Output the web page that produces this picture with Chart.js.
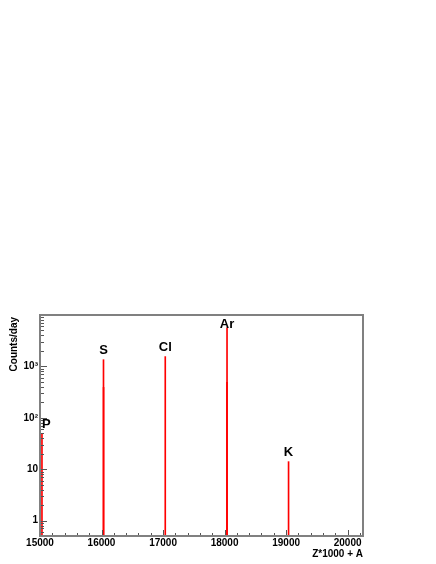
<!DOCTYPE html>
<html>
<head>
<meta charset="utf-8">
<script src="https://cdn.jsdelivr.net/npm/chart.js@4/dist/chart.umd.min.js"></script>
<style>
  html, body { margin: 0; padding: 0; background: #fff; }
  canvas { display: block; }
</style>
</head>
<body>
<canvas id="zaChart" width="436" height="564"></canvas>
<script>
// isotope bins (Z*1000 + A) and counts/day
const isotopeZA = [15032, 16032, 16033, 17036, 18039, 18040, 19040];
const countsPerDay = [50, 1350, 390, 1550, 490, 5600, 14];

// element labels above each peak
const elementNames = ["P", "S", "Cl", "Ar", "K"];
const elementZA = [15032, 16032, 17036, 18040, 19040];
const elementPeak = [50, 1350, 1550, 5600, 14];

const xTickValues = [15000, 16000, 17000, 18000, 19000, 20000];
const yTickValues = [1, 10, 100, 1000];
const yTickLabels = ["1", "10", "10²", "10³"];

const FONT = "'Liberation Sans', Arial, Helvetica, sans-serif";
const FRAME_GRAY = "#808080";

Chart.defaults.font.family = FONT;
Chart.defaults.color = "#000";

// ROOT-like frame, inner ticks, titles and element labels
const rootFrame = {
    id: 'rootFrame',
    afterDatasetsDraw(chart) {
        const { ctx, chartArea: a, scales } = chart;
        const x = scales.x, y = scales.y;
        ctx.save();

        // x ticks, pointing up from the bottom edge
        ctx.strokeStyle = "#555";
        ctx.lineWidth = 1;
        ctx.beginPath();
        for (let v = 15000; v <= x.max; v += 200) {
            let px = Math.round(x.getPixelForValue(v)) + 0.5;
            let len = (v % 1000 === 0) ? 6 : 3;
            ctx.moveTo(px, a.bottom);
            ctx.lineTo(px, a.bottom - len);
        }
        // y ticks, pointing right from the left edge
        [0.1, 1, 10, 100, 1000].forEach(d => {
            for (let m = 1; m <= 9; m++) {
                let v = m * d;
                if (v < y.min || v > y.max) continue;
                let py = Math.round(y.getPixelForValue(v)) + 0.5;
                let len = (m === 1) ? 7 : 4;
                ctx.moveTo(a.left, py);
                ctx.lineTo(a.left + len, py);
            }
        });
        ctx.stroke();

        // frame
        ctx.strokeStyle = FRAME_GRAY;
        ctx.lineWidth = 2;
        ctx.strokeRect(a.left, a.top, a.right - a.left, a.bottom - a.top);

        // element labels
        ctx.fillStyle = "#000";
        ctx.font = "bold 13px " + FONT;
        ctx.textAlign = "center";
        ctx.textBaseline = "middle";
        elementNames.forEach((name, i) => {
            let w = ctx.measureText(name).width;
            let px = Math.max(x.getPixelForValue(elementZA[i]), a.left + w / 2 + 2);
            let py = Math.max(y.getPixelForValue(elementPeak[i]) - 9, a.top + 9);
            ctx.fillText(name, px, py);
        });

        // axis titles
        ctx.font = "bold 10px " + FONT;
        ctx.textAlign = "right";
        ctx.fillText("Z*1000 + A", a.right, 554);
        ctx.translate(14, a.top + 2);
        ctx.rotate(-Math.PI / 2);
        ctx.textAlign = "right";
        ctx.fillText("Counts/day", 0, 0);
        ctx.restore();
    }
};

new Chart(document.getElementById('zaChart').getContext('2d'), {
    type: 'bar',
    data: {
        datasets: [{
            label: "Counts/day",
            data: isotopeZA.map((za, i) => ({ x: za, y: countsPerDay[i] })),
            backgroundColor: "#ff0000",
            borderWidth: 0,
            barThickness: 1
        }]
    },
    options: {
        responsive: false,
        animation: false,
        layout: { padding: { top: 315, right: 73, left: 0, bottom: 0 } },
        plugins: {
            legend: { display: false },
            tooltip: { enabled: false }
        },
        scales: {
            x: {
                type: 'linear',
                min: 15000,
                max: 20250,
                offset: false,
                grid: { display: false, drawTicks: false, tickLength: 0 },
                border: { display: false },
                afterBuildTicks: s => { s.ticks = xTickValues.map(v => ({ value: v })); },
                afterFit: s => { s.height = 28; },
                ticks: {
                    padding: 1,
                    maxRotation: 0,
                    autoSkip: false,
                    font: { size: 10, weight: 'bold' },
                    callback: v => String(v)
                }
            },
            y: {
                type: 'logarithmic',
                min: 0.5,
                max: 10000,
                grid: { display: false, drawTicks: false, tickLength: 0 },
                border: { display: false },
                afterBuildTicks: s => { s.ticks = yTickValues.map(v => ({ value: v })); },
                afterFit: s => { s.width = 40; },
                ticks: {
                    padding: 2,
                    autoSkip: false,
                    font: { size: 10, weight: 'bold' },
                    callback: v => yTickLabels[yTickValues.indexOf(v)]
                }
            }
        }
    },
    plugins: [rootFrame]
});
</script>
</body>
</html>
